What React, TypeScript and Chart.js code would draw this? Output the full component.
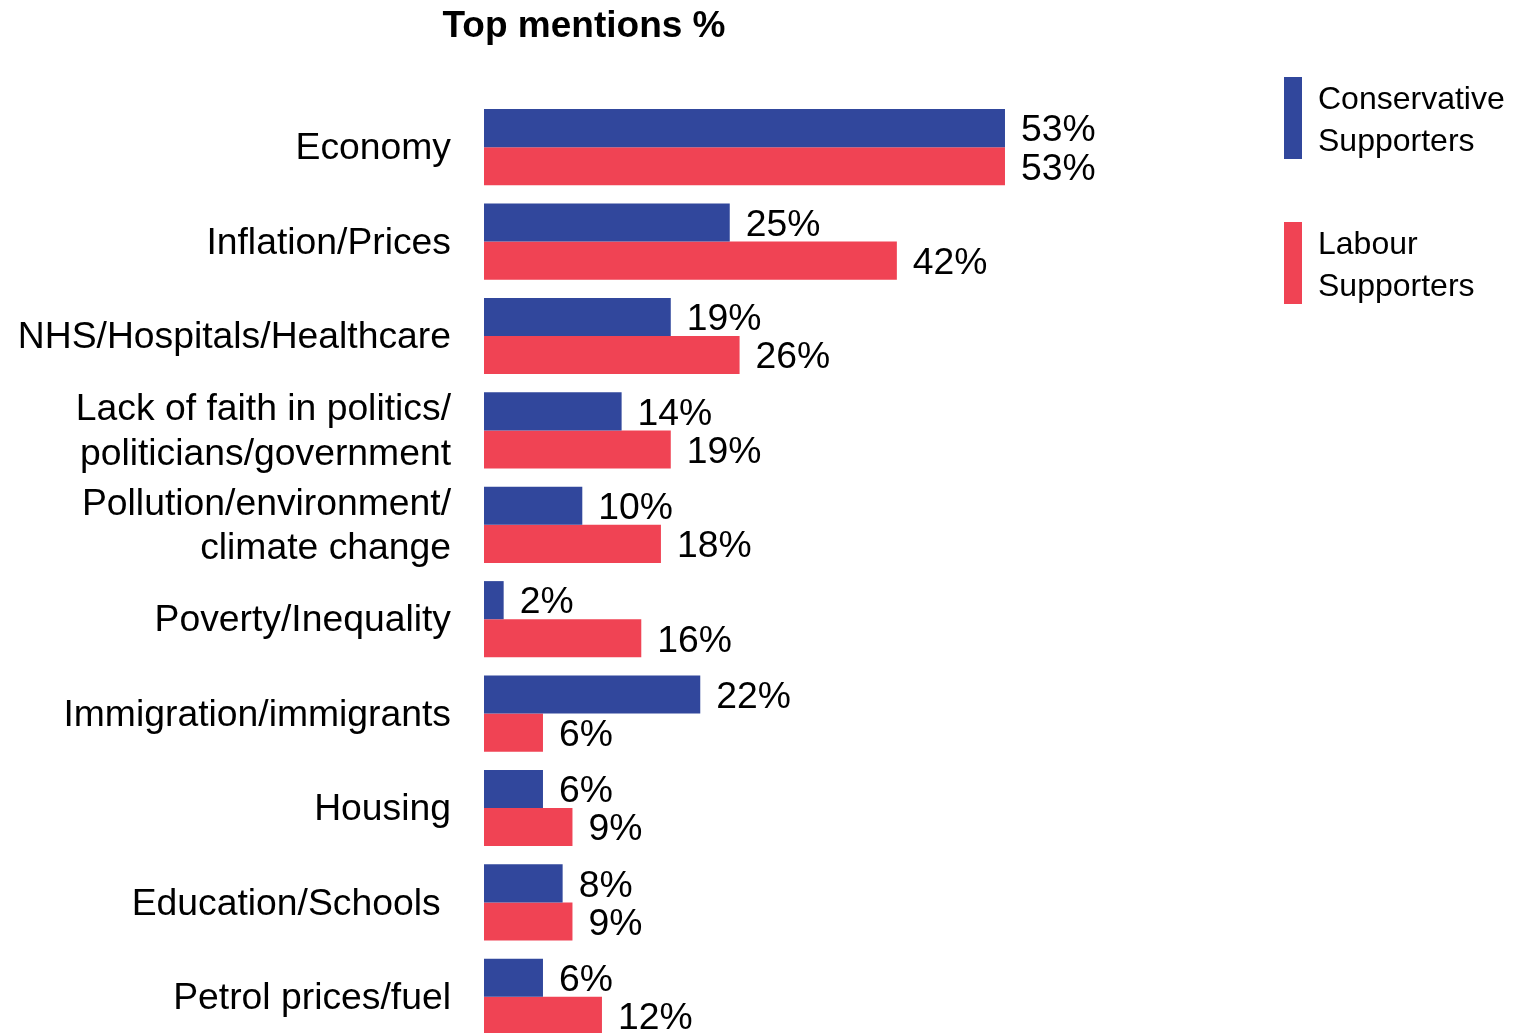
import React, { useEffect, useRef } from "react";
import { Chart, registerables } from "chart.js";

Chart.register(...registerables);

const FONT = "'Liberation Sans', Arial, Helvetica, sans-serif";

const TITLE = "Top mentions %";

const CATEGORIES: (string | string[])[] = [
  "Economy",
  "Inflation/Prices",
  "NHS/Hospitals/Healthcare",
  ["Lack of faith in politics/", "politicians/government"],
  ["Pollution/environment/", "climate change"],
  "Poverty/Inequality",
  "Immigration/immigrants",
  "Housing",
  "Education/Schools ",
  "Petrol prices/fuel",
];

const CONSERVATIVE = [53, 25, 19, 14, 10, 2, 22, 6, 8, 6];
const LABOUR = [53, 42, 26, 19, 18, 16, 6, 9, 9, 12];

const SERIES_NAMES = ["Conservative Supporters", "Labour Supporters"];
const SERIES_LEGEND_LINES = [
  ["Conservative", "Supporters"],
  ["Labour", "Supporters"],
];

const BLUE = "#31479C";
const RED = "#F04354";

const valueLabels = {
  id: "valueLabels",
  afterDatasetsDraw(chart: any) {
    const ctx = chart.ctx;
    ctx.save();
    ctx.font = `37.3px ${FONT}`;
    ctx.fillStyle = "#000";
    ctx.textAlign = "left";
    ctx.textBaseline = "middle";
    chart.data.datasets.forEach((ds: any, di: number) => {
      const meta = chart.getDatasetMeta(di);
      meta.data.forEach((bar: any, i: number) => {
        ctx.fillText(`${ds.data[i]}%`, bar.x + 16, bar.y + 3);
      });
    });
    ctx.restore();
  },
};

const titleAndLegend = {
  id: "titleAndLegend",
  afterDraw(chart: any) {
    const ctx = chart.ctx;
    ctx.save();
    ctx.font = `bold 37px ${FONT}`;
    ctx.fillStyle = "#000";
    ctx.textAlign = "center";
    ctx.textBaseline = "alphabetic";
    ctx.fillText(TITLE, 584, 37);
    const tops = [77, 222];
    chart.data.datasets.forEach((ds: any, di: number) => {
      const top = tops[di];
      ctx.fillStyle = ds.backgroundColor;
      ctx.fillRect(1284, top, 18, 82);
      ctx.fillStyle = "#000";
      ctx.font = `32px ${FONT}`;
      ctx.textAlign = "left";
      SERIES_LEGEND_LINES[di].forEach((line, li) => {
        ctx.fillText(line, 1318, top + 32 + li * 42);
      });
    });
    ctx.restore();
  },
};

export default function App() {
  const ref = useRef<HTMLCanvasElement | null>(null);

  useEffect(() => {
    if (!ref.current) return;
    const chart = new Chart(ref.current, {
      type: "bar",
      data: {
        labels: CATEGORIES,
        datasets: [
          {
            label: SERIES_NAMES[0],
            data: CONSERVATIVE,
            backgroundColor: BLUE,
            borderWidth: 0,
            categoryPercentage: 0.807,
            barPercentage: 1,
          },
          {
            label: SERIES_NAMES[1],
            data: LABOUR,
            backgroundColor: RED,
            borderWidth: 0,
            categoryPercentage: 0.807,
            barPercentage: 1,
          },
        ],
      },
      options: {
        indexAxis: "y",
        responsive: false,
        animation: false,
        devicePixelRatio: 1,
        layout: { padding: { top: 100, bottom: 23, left: 0, right: 62 } },
        scales: {
          x: { display: false, min: 0, max: 100 },
          y: {
            grid: { display: false, drawTicks: false },
            border: { display: false },
            ticks: {
              padding: 33,
              labelOffset: 2,
              color: "#000",
              autoSkip: false,
              font: { family: FONT, size: 37.3, lineHeight: 1.2 },
            },
            afterFit: (s: any) => {
              s.width = 484;
              s.paddingTop = 0;
              s.paddingBottom = 0;
            },
          },
        },
        plugins: {
          legend: { display: false },
          tooltip: { enabled: false },
          title: { display: false },
        },
      } as any,
      plugins: [valueLabels, titleAndLegend],
    });
    return () => chart.destroy();
  }, []);

  return (
    <div
      style={{
        position: "absolute",
        top: 0,
        left: 0,
        width: 1529,
        height: 1033,
        overflow: "hidden",
        background: "#fff",
      }}
    >
      <canvas ref={ref} width={1529} height={1067} style={{ width: 1529, height: 1067 }} />
    </div>
  );
}
